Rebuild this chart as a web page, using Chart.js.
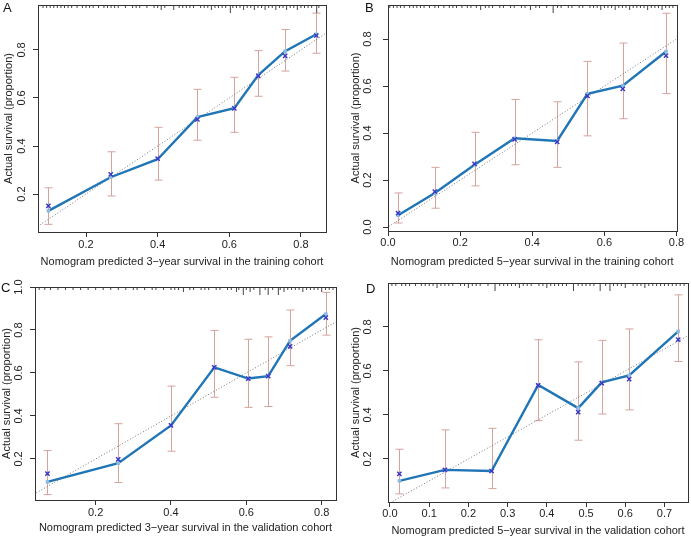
<!DOCTYPE html>
<html lang="en">
<head>
<meta charset="UTF-8">
<title>Nomogram calibration curves</title>
<script src="https://cdn.jsdelivr.net/npm/chart.js@4.4.0/dist/chart.umd.min.js"></script>
<style>
    body { margin: 0; background: #fff; font-family: "Liberation Sans", Arial, sans-serif; }
    #wrap { position: relative; width: 691px; height: 539px; }
    canvas { position: absolute; }
    .tag { position: absolute; font-size: 13px; line-height: 1; color: #111; }
</style>
</head>
<body>
<div id="wrap">
    <canvas id="chartA" width="345" height="270" style="left:0;top:0"></canvas>
    <canvas id="chartB" width="346" height="270" style="left:345px;top:0"></canvas>
    <canvas id="chartC" width="345" height="269" style="left:0;top:270px"></canvas>
    <canvas id="chartD" width="346" height="269" style="left:345px;top:270px"></canvas>
    <div class="tag" style="left:3px;top:1px">A</div>
    <div class="tag" style="left:365px;top:1px">B</div>
    <div class="tag" style="left:1px;top:281px">C</div>
    <div class="tag" style="left:366px;top:282px">D</div>
</div>
<script>
// A: 3-year, training cohort
const predA  = [0.095, 0.269, 0.400, 0.511, 0.614, 0.681, 0.756, 0.843];
const curveA = [0.130, 0.270, 0.345, 0.520, 0.557, 0.695, 0.795, 0.865];
const obsA   = [0.151, 0.282, 0.347, 0.511, 0.557, 0.692, 0.775, 0.860];
const lowA   = [0.074, 0.192, 0.258, 0.424, 0.457, 0.607, 0.712, 0.786];
const highA  = [0.226, 0.376, 0.478, 0.636, 0.686, 0.797, 0.885, 0.953];
const rugA = [0.08, 0.09, 0.10, 0.11, 0.12, 0.13, 0.14, 0.15, 0.16, 0.175, 0.19, 0.20, 0.21, 0.22, 0.235,
    0.25, 0.26, 0.27, 0.28, 0.29, 0.31, 0.33, 0.34, 0.35, 0.37, 0.39, 0.40, 0.42, 0.46, 0.47, 0.48, 0.49,
    0.50, 0.52, 0.53, 0.54, 0.56, 0.57, 0.58, 0.59, 0.61, 0.62, 0.63, 0.65, 0.66, 0.68, 0.69, 0.71, 0.72,
    0.74, 0.75, 0.77, 0.78, 0.80, 0.81, 0.82, 0.83, 0.85];
const rugMidA  = [0.41, 0.445, 0.55, 0.64, 0.67, 0.70, 0.73, 0.76, 0.79];
const rugLongA = [0.603, 0.844];

// B: 5-year, training cohort
const predB  = [0.028, 0.130, 0.240, 0.351, 0.469, 0.553, 0.651, 0.771];
const curveB = [0.050, 0.145, 0.265, 0.378, 0.366, 0.567, 0.602, 0.747];
const obsB   = [0.059, 0.151, 0.269, 0.373, 0.362, 0.558, 0.588, 0.729];
const lowB   = [0.017, 0.080, 0.175, 0.265, 0.254, 0.388, 0.461, 0.568];
const highB  = [0.145, 0.254, 0.403, 0.543, 0.533, 0.705, 0.783, 0.910];
const rugB = [0.005, 0.015, 0.025, 0.035, 0.045, 0.06, 0.07, 0.08, 0.09, 0.10, 0.115, 0.13, 0.14, 0.155,
    0.17, 0.18, 0.19, 0.205, 0.22, 0.23, 0.245, 0.27, 0.28, 0.29, 0.31, 0.32, 0.34, 0.35, 0.37, 0.38,
    0.41, 0.42, 0.44, 0.47, 0.48, 0.50, 0.51, 0.53, 0.54, 0.56, 0.57, 0.58, 0.60, 0.61, 0.62, 0.64, 0.65,
    0.66, 0.68, 0.69, 0.70, 0.71, 0.73, 0.74, 0.75, 0.77, 0.78, 0.79];
const rugMidB  = [0.257, 0.395, 0.59, 0.63, 0.67, 0.72, 0.76];
const rugLongB = [0.458];

// C: 3-year, validation cohort
const predC  = [0.072, 0.260, 0.400, 0.515, 0.605, 0.658, 0.716, 0.811];
const curveC = [0.093, 0.180, 0.356, 0.626, 0.574, 0.585, 0.750, 0.874];
const obsC   = [0.132, 0.198, 0.356, 0.626, 0.574, 0.585, 0.724, 0.858];
const lowC   = [0.034, 0.090, 0.236, 0.487, 0.440, 0.444, 0.634, 0.776];
const highC  = [0.239, 0.364, 0.539, 0.798, 0.757, 0.768, 0.893, 0.975];
const rugC = [0.05, 0.065, 0.08, 0.10, 0.12, 0.14, 0.16, 0.18, 0.20, 0.22, 0.24, 0.26, 0.28, 0.30, 0.31,
    0.33, 0.35, 0.36, 0.38, 0.40, 0.41, 0.42, 0.45, 0.46, 0.48, 0.49, 0.50, 0.52, 0.53, 0.55, 0.56,
    0.58, 0.60, 0.62, 0.65, 0.67, 0.69, 0.71, 0.72, 0.73, 0.74, 0.76, 0.77, 0.78, 0.79, 0.81, 0.82, 0.83];
const rugMidC  = [0.433, 0.574, 0.61, 0.70, 0.75, 0.80];
const rugLongC = [0.592, 0.636, 0.658, 0.685];

// D: 5-year, validation cohort
const predD  = [0.024, 0.140, 0.259, 0.378, 0.480, 0.540, 0.610, 0.735];
const curveD = [0.100, 0.150, 0.145, 0.536, 0.431, 0.548, 0.580, 0.780];
const obsD   = [0.132, 0.150, 0.145, 0.534, 0.413, 0.545, 0.563, 0.742];
const lowD   = [0.041, 0.068, 0.065, 0.374, 0.285, 0.404, 0.423, 0.643];
const highD  = [0.244, 0.332, 0.339, 0.742, 0.641, 0.739, 0.791, 0.946];
const rugD = [0.005, 0.015, 0.03, 0.04, 0.05, 0.065, 0.08, 0.09, 0.10, 0.11, 0.13, 0.14, 0.15, 0.16,
    0.18, 0.19, 0.21, 0.22, 0.23, 0.25, 0.28, 0.29, 0.30, 0.31, 0.32, 0.34, 0.35, 0.36, 0.38, 0.39,
    0.41, 0.42, 0.43, 0.44, 0.45, 0.48, 0.49, 0.50, 0.51, 0.52, 0.55, 0.57, 0.58, 0.59, 0.62, 0.63,
    0.64, 0.66, 0.67, 0.68, 0.69, 0.70, 0.71, 0.72, 0.73, 0.74, 0.75];
const rugMidD  = [0.12, 0.20, 0.33, 0.40, 0.60, 0.65];
const rugLongD = [0.268, 0.468, 0.536, 0.561];

const xTicksA = [0.2, 0.4, 0.6, 0.8];
const xTicksB = [0.0, 0.2, 0.4, 0.6, 0.8];
const xTicksD = [0.0, 0.1, 0.2, 0.3, 0.4, 0.5, 0.6, 0.7];
const yTicksA = [0.2, 0.4, 0.6, 0.8];
const yTicksB = [0.0, 0.2, 0.4, 0.6, 0.8];
const yTicksC = [0.2, 0.4, 0.6, 0.8, 1.0];

const yTitle = 'Actual survival (proportion)';
const font11 = { family: "'Liberation Sans', Arial, sans-serif", size: 11 };
const ink = '#222';

// rug ticks: vertical line markers sitting on the top edge, upper half clipped away
function rugSet(vals, yTop, len) {
    return {
        label: 'rug',
        data: vals.map(v => ({x: v, y: yTop})),
        showLine: false,
        pointStyle: 'line',
        rotation: 90,
        pointRadius: len,
        pointBorderWidth: 1,
        pointBorderColor: '#444',
        clip: 0,
        order: 3
    };
}

function panel(id, p) {
    const canvas = document.getElementById(id);
    const W = canvas.width, H = canvas.height;

    // error bars, frame and rotated y labels, placed through the scales
    const calPlugin = {
        id: 'cal',
        beforeDatasetsDraw(chart) {
            const {ctx, scales: {x, y}} = chart;
            ctx.save();
            ctx.strokeStyle = '#d4a39c';
            ctx.lineWidth = 1;
            p.pred.forEach((v, i) => {
                const px = Math.round(x.getPixelForValue(v)) + 0.5;
                const y0 = y.getPixelForValue(p.low[i]);
                const y1 = y.getPixelForValue(p.high[i]);
                ctx.beginPath();
                ctx.moveTo(px, y0); ctx.lineTo(px, y1);
                ctx.moveTo(px - 4, y0); ctx.lineTo(px + 4, y0);
                ctx.moveTo(px - 4, y1); ctx.lineTo(px + 4, y1);
                ctx.stroke();
            });
            ctx.restore();
        },
        afterDraw(chart) {
            const {ctx, chartArea: a, scales: {y}} = chart;
            ctx.save();
            ctx.strokeStyle = '#333';
            ctx.lineWidth = 1;
            ctx.strokeRect(Math.round(a.left) + 0.5, Math.round(a.top) + 0.5,
                Math.round(a.right - a.left), Math.round(a.bottom - a.top));
            ctx.fillStyle = ink;
            ctx.font = "11px 'Liberation Sans', Arial, sans-serif";
            ctx.textAlign = 'center';
            ctx.textBaseline = 'middle';
            y.ticks.forEach(t => {
                ctx.save();
                ctx.translate(a.left - p.yLabOff, y.getPixelForValue(t.value));
                ctx.rotate(-Math.PI / 2);
                ctx.fillText(t.value.toFixed(1), 0, 0);
                ctx.restore();
            });
            ctx.restore();
        }
    };

    return new Chart(canvas, {
        type: 'line',
        data: {
            datasets: [
                {
                    label: 'Observed',
                    data: p.pred.map((v, i) => ({x: v, y: p.obs[i]})),
                    showLine: false,
                    pointStyle: 'crossRot',
                    pointRadius: 3,
                    pointBorderWidth: 1.4,
                    pointBorderColor: '#3434c6',
                    order: 0
                },
                {
                    label: 'Calibration',
                    data: p.pred.map((v, i) => ({x: v, y: p.curve[i]})),
                    borderColor: '#1f75b5',
                    borderWidth: 2.4,
                    pointStyle: 'rect',
                    pointRadius: 2.5,
                    pointBorderWidth: 0,
                    pointBackgroundColor: '#8fbbe0',
                    tension: 0,
                    order: 1
                },
                {
                    label: 'Ideal',
                    data: [{x: -0.2, y: -0.2}, {x: 1.2, y: 1.2}],
                    borderColor: '#777',
                    borderWidth: 1,
                    borderDash: [1, 2],
                    pointRadius: 0,
                    order: 2
                },
                rugSet(p.rug, p.yMax, 3),
                rugSet(p.rugMid, p.yMax, 5),
                rugSet(p.rugLong, p.yMax, 8)
            ]
        },
        options: {
            responsive: false,
            animation: false,
            devicePixelRatio: 1,
            layout: {
                autoPadding: false,
                padding: { top: p.top, right: W - p.right, left: 0, bottom: 0 }
            },
            plugins: { legend: { display: false }, tooltip: { enabled: false } },
            scales: {
                x: {
                    type: 'linear',
                    min: p.xMin, max: p.xMax,
                    afterBuildTicks: s => { s.ticks = p.xTicks.map(v => ({value: v})); },
                    afterFit: s => { s.height = H - p.bottom; },
                    grid: { drawOnChartArea: false, tickLength: 5, color: '#333' },
                    border: { color: '#333' },
                    ticks: { font: font11, color: ink, padding: p.xTickPad, maxRotation: 0,
                        callback: v => v.toFixed(1) },
                    title: { display: true, text: p.xTitle, font: font11, color: ink,
                        padding: { top: 0, bottom: p.xTitlePad } }
                },
                y: {
                    type: 'linear',
                    min: p.yMin, max: p.yMax,
                    afterBuildTicks: s => { s.ticks = p.yTicks.map(v => ({value: v})); },
                    afterFit: s => { s.width = p.left; },
                    grid: { drawOnChartArea: false, tickLength: 5, color: '#333' },
                    border: { color: '#333' },
                    ticks: { display: false },
                    title: { display: true, text: yTitle, font: font11, color: ink,
                        padding: { top: p.yTitlePad, bottom: 0 } }
                }
            }
        },
        plugins: [calPlugin]
    });
}

panel('chartA', {
    pred: predA, curve: curveA, obs: obsA, low: lowA, high: highA,
    rug: rugA, rugMid: rugMidA, rugLong: rugLongA,
    xMin: 0.066, xMax: 0.870, yMin: 0.042, yMax: 0.987,
    xTicks: xTicksA, yTicks: yTicksA,
    left: 38, right: 326, top: 5, bottom: 232,
    yLabOff: 16, yTitlePad: 2, xTickPad: 1.5, xTitlePad: 1.4,
    xTitle: 'Nomogram predicted 3\u2212year survival in the training cohort'
});

panel('chartB', {
    pred: predB, curve: curveB, obs: obsB, low: lowB, high: highB,
    rug: rugB, rugMid: rugMidB, rugLong: rugLongB,
    xMin: 0, xMax: 0.8, yMin: -0.017, yMax: 0.945,
    xTicks: xTicksB, yTicks: yTicksB,
    left: 43, right: 331.5, top: 5, bottom: 231,
    yLabOff: 20, yTitlePad: 4, xTickPad: 0, xTitlePad: 1.4,
    xTitle: 'Nomogram predicted 5\u2212year survival in the training cohort'
});

panel('chartC', {
    pred: predC, curve: curveC, obs: obsC, low: lowC, high: highC,
    rug: rugC, rugMid: rugMidC, rugLong: rugLongC,
    xMin: 0.039, xMax: 0.838, yMin: 0.009, yMax: 1.0,
    xTicks: xTicksA, yTicks: yTicksC,
    left: 35, right: 336, top: 17, bottom: 230,
    yLabOff: 16, yTitlePad: 0, xTickPad: 1.5, xTitlePad: 4.4,
    xTitle: 'Nomogram predicted 3\u2212year survival in the validation cohort'
});

panel('chartD', {
    pred: predD, curve: curveD, obs: obsD, low: lowD, high: highD,
    rug: rugD, rugMid: rugMidD, rugLong: rugLongD,
    xMin: -0.005, xMax: 0.76, yMin: 0.004, yMax: 1.0,
    xTicks: xTicksD, yTicks: yTicksA,
    left: 43, right: 343, top: 13, bottom: 232,
    yLabOff: 20, yTitlePad: 4.7, xTickPad: 0, xTitlePad: 1.4,
    xTitle: 'Nomogram predicted 5\u2212year survival in the validation cohort'
});
</script>
</body>
</html>
